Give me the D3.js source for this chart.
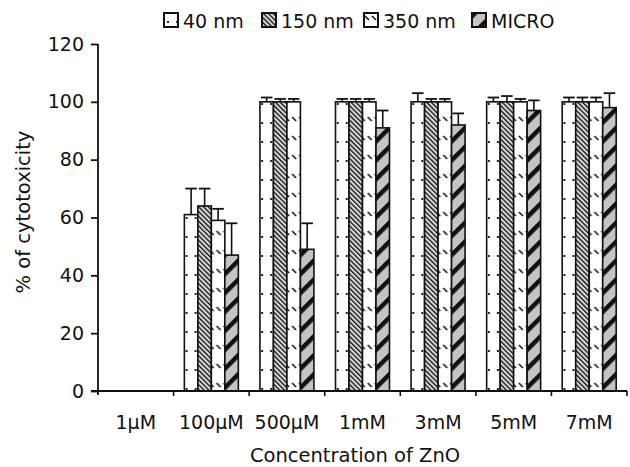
<!DOCTYPE html>
<html>
<head>
<meta charset="utf-8">
<script src="https://cdn.jsdelivr.net/npm/d3@7"></script>
<style>
	body { margin: 0; background: #fff; }
	svg text { font-family: "DejaVu Sans", "Liberation Sans", Arial, sans-serif; fill: #111; }
</style>
</head>
<body>
<svg width="630" height="467"></svg>
<script>
// chart values
var categories = ['1\u00b5M', '100\u00b5M', '500\u00b5M', '1mM', '3mM', '5mM', '7mM'];
var series = ['40 nm', '150 nm', '350 nm', 'MICRO'];
var patternIds = ['p40', 'p150', 'p350', 'pmicro'];

var val40    = [0, 61, 100, 100, 100, 100, 100];
var val150   = [0, 64, 100, 100, 100, 100, 100];
var val350   = [0, 59, 100, 100, 100, 100, 100];
var valMicro = [0, 47, 49, 91, 92, 97, 98];

var err40    = [0, 9, 1.5, 1, 3, 1.5, 1.5];
var err150   = [0, 6, 1, 1, 1, 2, 1.5];
var err350   = [0, 4, 1, 1, 1, 1, 1.5];
var errMicro = [0, 11, 9, 6, 4, 3.5, 5];

var yTicks = [0, 20, 40, 60, 80, 100, 120];

var values = [val40, val150, val350, valMicro];
var errors = [err40, err150, err350, errMicro];

var svg = d3.select('svg');

// fill patterns
var defs = svg.append('defs');

var p40 = defs.append('pattern').attr('id', 'p40')
	.attr('patternUnits', 'userSpaceOnUse').attr('width', 9).attr('height', 19);
p40.append('rect').attr('width', 9).attr('height', 19).attr('fill', '#fff');
p40.append('rect').attr('x', 3).attr('y', 8).attr('width', 2).attr('height', 2).attr('fill', '#222');

var p150 = defs.append('pattern').attr('id', 'p150')
	.attr('patternUnits', 'userSpaceOnUse').attr('width', 3.4).attr('height', 10)
	.attr('patternTransform', 'rotate(-45)');
p150.append('rect').attr('width', 3.4).attr('height', 10).attr('fill', '#d8d8d8');
p150.append('rect').attr('width', 1.3).attr('height', 10).attr('fill', '#111');

var p350 = defs.append('pattern').attr('id', 'p350')
	.attr('patternUnits', 'userSpaceOnUse').attr('width', 7).attr('height', 19);
p350.append('rect').attr('width', 7).attr('height', 19).attr('fill', '#fff');
p350.append('line').attr('x1', 1).attr('y1', 3).attr('x2', 5).attr('y2', 7)
	.attr('stroke', '#111').attr('stroke-width', 1.6);

var pm = defs.append('pattern').attr('id', 'pmicro')
	.attr('patternUnits', 'userSpaceOnUse').attr('width', 13.4).attr('height', 20)
	.attr('patternTransform', 'rotate(45)');
pm.append('rect').attr('width', 13.4).attr('height', 20).attr('fill', '#c4c4c4');
pm.append('rect').attr('width', 4.5).attr('height', 20).attr('fill', '#111');

// scales
var x0 = d3.scaleBand().domain(categories).range([98, 627]);
var x1 = d3.scaleBand().domain(series).range([0, x0.bandwidth()]).paddingOuter(0.8);
var y = d3.scaleLinear().domain([0, 120]).range([391, 44]);

// y axis
var yAxis = svg.append('g')
	.attr('transform', 'translate(98,0)')
	.call(d3.axisLeft(y).tickValues(yTicks).tickSize(7).tickPadding(7).tickSizeOuter(0));
yAxis.select('.domain').remove();
yAxis.selectAll('.tick line').attr('stroke', '#111').attr('stroke-width', 1.8);
yAxis.selectAll('text').attr('font-size', 19);
svg.append('line')
	.attr('x1', 98).attr('x2', 98)
	.attr('y1', y(120)).attr('y2', y(0) + 4)
	.attr('stroke', '#111').attr('stroke-width', 1.8);

// bars
var groups = svg.append('g').selectAll('g')
	.data(categories)
	.enter().append('g')
		.attr('transform', function(d){ return 'translate(' + x0(d) + ',0)'; });

groups.selectAll('rect')
	.data(function(d, ci){
		return series.map(function(s, si){
			return { key: s, si: si, v: values[si][ci], e: errors[si][ci] };
		}).filter(function(item){ return item.v > 0; });
	})
	.enter().append('rect')
		.attr('x', function(d){ return x1(d.key); })
		.attr('y', function(d){ return y(d.v); })
		.attr('width', x1.bandwidth())
		.attr('height', function(d){ return y(0) - y(d.v); })
		.attr('fill', function(d){ return 'url(#' + patternIds[d.si] + ')'; })
		.attr('stroke', '#111')
		.attr('stroke-width', 1.6);

// error bars, upper half only
var errs = groups.selectAll('g.err')
	.data(function(d, ci){
		return series.map(function(s, si){
			return { key: s, v: values[si][ci], e: errors[si][ci] };
		}).filter(function(item){ return item.v > 0; });
	})
	.enter().append('g').attr('class', 'err');

errs.append('line')
	.attr('x1', function(d){ return x1(d.key) + x1.bandwidth() / 2; })
	.attr('x2', function(d){ return x1(d.key) + x1.bandwidth() / 2; })
	.attr('y1', function(d){ return y(d.v); })
	.attr('y2', function(d){ return y(d.v + d.e); })
	.attr('stroke', '#111').attr('stroke-width', 1.6);

errs.append('line')
	.attr('x1', function(d){ return x1(d.key) + 1; })
	.attr('x2', function(d){ return x1(d.key) + x1.bandwidth() - 1; })
	.attr('y1', function(d){ return y(d.v + d.e); })
	.attr('y2', function(d){ return y(d.v + d.e); })
	.attr('stroke', '#111').attr('stroke-width', 1.8);

// x axis: line with ticks on category boundaries, labels centred
svg.append('line')
	.attr('x1', 91).attr('x2', 627)
	.attr('y1', y(0)).attr('y2', y(0))
	.attr('stroke', '#111').attr('stroke-width', 1.8);

svg.append('g').selectAll('line')
	.data(categories.slice(1).concat(['end']))
	.enter().append('line')
		.attr('x1', function(d){ return d == 'end' ? x0.range()[1] : x0(d); })
		.attr('x2', function(d){ return d == 'end' ? x0.range()[1] : x0(d); })
		.attr('y1', y(0)).attr('y2', y(0) + 5)
		.attr('stroke', '#111').attr('stroke-width', 1.6);

var xAxis = svg.append('g')
	.attr('transform', 'translate(0,' + y(0) + ')')
	.call(d3.axisBottom(x0).tickSize(0).tickPadding(25));
xAxis.select('.domain').remove();
xAxis.selectAll('text').attr('font-size', 19);

// axis titles
svg.append('text')
	.attr('transform', 'translate(30,' + 212 + ') rotate(-90)')
	.attr('text-anchor', 'middle')
	.attr('font-size', 19.5)
	.text('% of cytotoxicity');

svg.append('text')
	.attr('x', 355).attr('y', 462)
	.attr('text-anchor', 'middle')
	.attr('font-size', 19.5)
	.text('Concentration of ZnO');

// legend
var legendX = [164, 262, 364, 472];
var legend = svg.append('g').selectAll('g')
	.data(series)
	.enter().append('g')
		.attr('transform', function(d, i){ return 'translate(' + legendX[i] + ',13)'; });

legend.append('rect')
	.attr('width', 14).attr('height', 14)
	.attr('fill', function(d, i){ return 'url(#' + patternIds[i] + ')'; })
	.attr('stroke', '#111').attr('stroke-width', 2);

legend.append('text')
	.attr('x', 19).attr('y', 14.5)
	.attr('font-size', 19)
	.text(function(d){ return d; });
</script>
</body>
</html>
